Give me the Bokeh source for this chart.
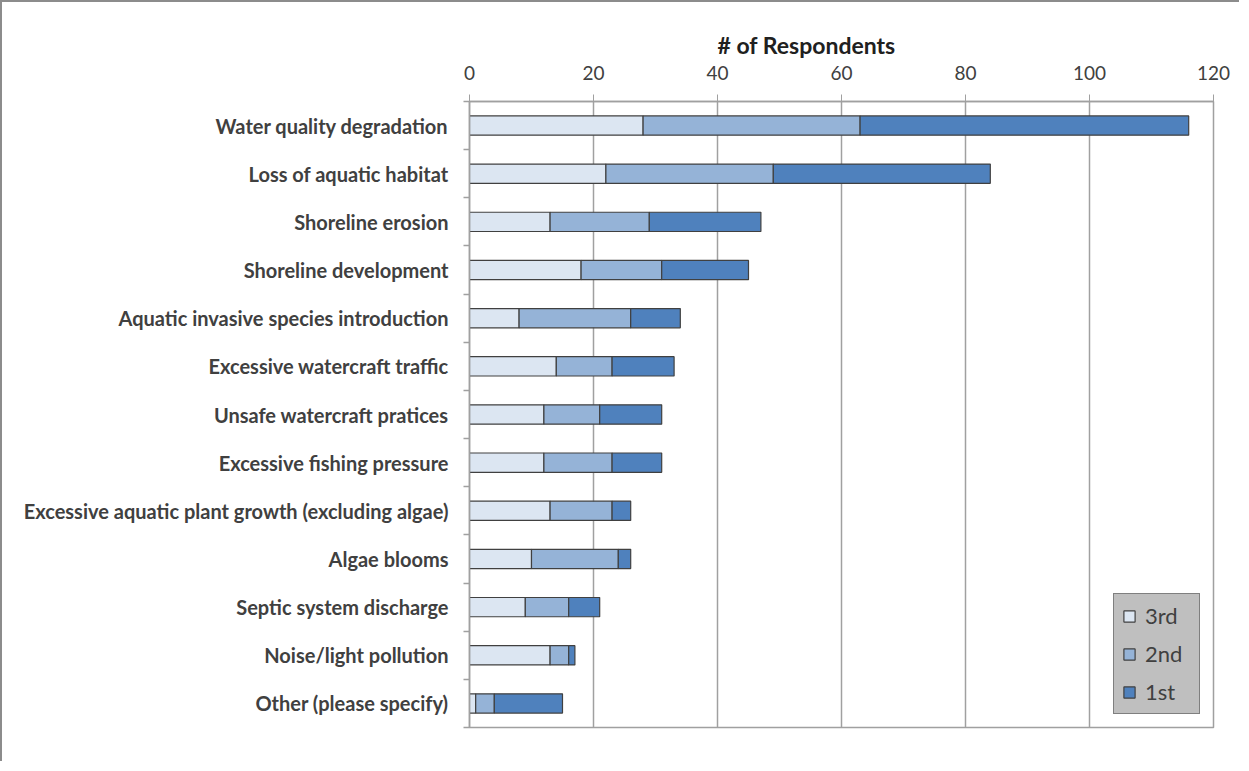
from bokeh.plotting import figure
from bokeh.models import (ColumnDataSource, Range1d, FixedTicker, SingleIntervalTicker,
                          Title)
from bokeh.embed import file_html
from bokeh.resources import INLINE

categories = [
    "Water quality degradation",
    "Loss of aquatic habitat",
    "Shoreline erosion",
    "Shoreline development",
    "Aquatic invasive species introduction",
    "Excessive watercraft traffic",
    "Unsafe watercraft pratices",
    "Excessive fishing pressure",
    "Excessive aquatic plant growth (excluding algae)",
    "Algae blooms",
    "Septic system discharge",
    "Noise/light pollution",
    "Other (please specify)",
]
third = [28, 22, 13, 18, 8, 14, 12, 12, 13, 10, 9, 13, 1]
second = [35, 27, 16, 13, 18, 9, 9, 11, 10, 14, 7, 3, 3]
first = [53, 35, 18, 14, 8, 10, 10, 8, 3, 2, 5, 1, 11]
series_names = ["3rd", "2nd", "1st"]
colors = ["#DCE6F2", "#95B3D7", "#4F81BD"]
x_ticks_interval = 20
x_max = 120
axis_title = "# of Respondents"

n = len(categories)
pos = [n - 1 - i for i in range(n)]
src = ColumnDataSource(dict(pos=pos, cat=categories, third=third, second=second, first=first))

FONT = "Lato"
GRAY = "#A0A0A0"
TXT = "#404040"

p = figure(width=1239, height=761, output_backend="svg", toolbar_location=None,
           x_range=Range1d(0, x_max), y_range=Range1d(-0.5, n - 0.5),
           x_axis_location="above", y_axis_location="left",
           min_border_left=467, min_border_right=28, min_border_top=99,
           min_border_bottom=36)
p.styles = {"border-top": "2px solid #8C8C8C", "border-left": "2px solid #8C8C8C"}

renderers = p.hbar_stack(["third", "second", "first"], y="pos", height=0.4, source=src,
                         color=colors, line_color="#404040", line_width=1.2,
                         legend_label=series_names)
for r, c in zip(renderers, colors):
    r.glyph.fill_color = c
    r.glyph.line_color = "#404040"

# top axis
xa = p.xaxis[0]
xa.ticker = SingleIntervalTicker(interval=x_ticks_interval)
xa.major_tick_in = 0
xa.major_tick_out = 7
xa.minor_tick_out = 0
xa.minor_tick_in = 0
xa.axis_line_color = GRAY
xa.axis_line_width = 1.5
xa.major_tick_line_color = GRAY
xa.major_label_text_font = FONT
xa.major_label_text_font_size = "19px"
xa.major_label_text_color = TXT
xa.major_label_standoff = 15

# left axis
ya = p.yaxis[0]
ya.ticker = FixedTicker(ticks=pos, minor_ticks=[v - 0.5 for v in range(n + 1)])
ya.major_label_overrides = {pv: c for pv, c in zip(pos, categories)}
ya.major_tick_in = 0
ya.major_tick_out = 0
ya.minor_tick_in = 0
ya.minor_tick_out = 6
ya.minor_tick_line_color = GRAY
ya.minor_tick_line_width = 1.5
ya.axis_line_color = GRAY
ya.axis_line_width = 1.5
ya.major_label_text_font = FONT
ya.major_label_text_font_style = "bold"
ya.major_label_text_font_size = "20px"
ya.major_label_text_color = TXT
ya.major_label_standoff = 15

p.xgrid.ticker = SingleIntervalTicker(interval=x_ticks_interval)
p.xgrid.grid_line_color = GRAY
p.xgrid.grid_line_width = 1.5
p.ygrid.grid_line_color = None
p.outline_line_color = GRAY
p.outline_line_width = 1.5

title = Title(text=axis_title, align="left", offset=248, text_font=FONT,
              text_font_style="bold", text_font_size="23px", text_color="#202020",
              standoff=8)
p.add_layout(title, "above")

legend = p.legend[0]
legend.location = "bottom_right"
legend.margin = 13
legend.padding = 8
legend.spacing = 11
legend.glyph_width = 14
legend.glyph_height = 14
legend.label_standoff = 9
legend.label_width = 46
legend.label_text_font = FONT
legend.label_text_font_size = "22px"
legend.label_text_color = TXT
legend.background_fill_color = "#BFBFBF"
legend.background_fill_alpha = 1
legend.border_line_color = "#404040"
legend.border_line_width = 1.2

open("out.html", "w").write(file_html(p, INLINE))
